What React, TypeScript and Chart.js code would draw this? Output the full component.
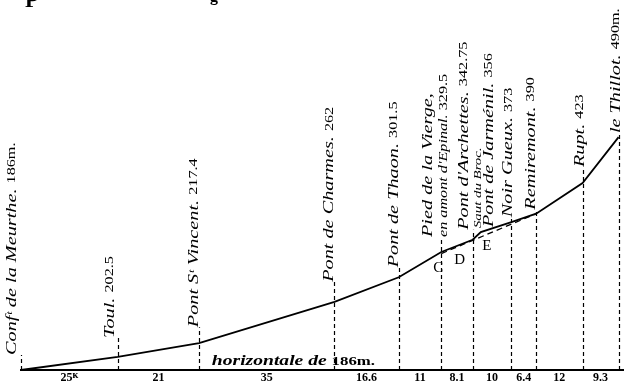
import React, { useEffect, useRef } from "react";
import { Chart, registerables } from "chart.js";
Chart.register(...registerables);

// ---- data ----
const segmentKm = [25, 21, 35, 16.6, 11, 8.1, 10, 6.4, 12, 9.3];
const segmentLabels = ["25ᴷ", "21", "35", "16.6", "11", "8.1", "10", "6.4", "12", "9.3"];

const stationNames = [
  "Confᵗ de la Meurthe.",
  "Toul.",
  "Pont Sᵗ Vincent.",
  "Pont de Charmes.",
  "Pont de Thaon.",
  "Pied de la Vierge,",
  "Pont d'Archettes.",
  "Pont de Jarménil.",
  "Noir Gueux.",
  "Remiremont.",
  "Rupt.",
  "le Thillot.",
];
const stationAltLabels = ["186m.", "202.5", "217.4", "262", "301.5", "329.5", "342.75", "356", "373", "390", "423", "490m."];
const stationSubNotes = ["", "", "", "", "", "en amont d'Epinal.", "", "Saut du Broc.", "", "", "", ""];
const stationKm = [0, 25, 46, 81, 97.6, 108.6, 116.7, 118.8, 126.7, 133.1, 145.1, 154.4];
const profileElev = [186, 203, 221, 275, 307, 340, 356, 366, 379, 390, 430, 490];

const dashedKm = [108.6, 133.1];
const dashedElev = [338, 390];

const pointLetters = ["C", "D", "E"];
const letterStation = [5, 6, 7];

const baseCaption = "horizontale de ";
const baseCaptionAlt = "186m.";

// ---- layout / style (not data) ----
const NAME_FONT = "italic 15px 'Liberation Serif'";
const ALT_FONT = "12px 'Liberation Serif'";
const SMALL_ITALIC = "italic 12px 'Liberation Serif'";
const STRETCH = 1.35;
const labelLayout = [
  { dx: -9, gap: 15, line: true, subDx: 0, subGap: 0, subFont: SMALL_ITALIC },
  { dx: -8, gap: 19, line: true, subDx: 0, subGap: 0, subFont: SMALL_ITALIC },
  { dx: -5, gap: 16, line: true, subDx: 0, subGap: 0, subFont: SMALL_ITALIC },
  { dx: -5, gap: 20, line: true, subDx: 0, subGap: 0, subFont: SMALL_ITALIC },
  { dx: -5, gap: 10, line: true, subDx: 0, subGap: 0, subFont: SMALL_ITALIC },
  { dx: -13, gap: 15, line: true, subDx: 3, subGap: 15, subFont: SMALL_ITALIC },
  { dx: -9, gap: 10, line: true, subDx: 0, subGap: 0, subFont: SMALL_ITALIC },
  { dx: 8, gap: 5, line: false, subDx: -3, subGap: 4, subFont: "italic 11px 'Liberation Serif'" },
  { dx: -3, gap: 5, line: true, subDx: 0, subGap: 0, subFont: SMALL_ITALIC },
  { dx: -5, gap: 4, line: true, subDx: 0, subGap: 0, subFont: SMALL_ITALIC },
  { dx: -3, gap: 16, line: true, subDx: 0, subGap: 0, subFont: SMALL_ITALIC },
  { dx: -3, gap: 4, line: true, subDx: 0, subGap: 0, subFont: SMALL_ITALIC },
];
const letterOffsets = [
  { dx: -3, dy: 16 },
  { dx: -13, dy: 20 },
  { dx: 6, dy: 14 },
];

type Part = { text: string; font: string };

function drawRotatedRun(ctx: CanvasRenderingContext2D, x: number, y: number, parts: Part[]) {
  ctx.save();
  ctx.translate(x, y);
  ctx.rotate(-Math.PI / 2);
  ctx.scale(STRETCH, 1);
  ctx.textBaseline = "middle";
  ctx.textAlign = "left";
  ctx.fillStyle = "#000";
  let cx = 0;
  for (const p of parts) {
    ctx.font = p.font;
    ctx.fillText(p.text, cx, 0);
    cx += ctx.measureText(p.text).width;
  }
  ctx.restore();
}

const annotatePlugin = {
  id: "annotate",
  beforeDraw(chart: any) {
    const ctx = chart.ctx;
    ctx.save();
    ctx.fillStyle = "#fff";
    ctx.fillRect(0, 0, chart.width, chart.height);
    ctx.restore();
  },
  afterDatasetsDraw(chart: any) {
    const ctx: CanvasRenderingContext2D = chart.ctx;
    const xs = chart.scales.x;
    const ys = chart.scales.y;
    const bottom = chart.chartArea.bottom;
    ctx.save();
    // vertical dashed station lines
    ctx.strokeStyle = "#000";
    ctx.lineWidth = 1.2;
    ctx.setLineDash([4, 3]);
    stationKm.forEach((k, i) => {
      const L = labelLayout[i];
      if (!L.line) return;
      const px = Math.round(xs.getPixelForValue(k)) + 0.5;
      const py = ys.getPixelForValue(profileElev[i]);
      ctx.beginPath();
      ctx.moveTo(px, bottom);
      ctx.lineTo(px, py - L.gap);
      ctx.stroke();
    });
    ctx.setLineDash([]);
    // station labels
    stationKm.forEach((k, i) => {
      const L = labelLayout[i];
      const px = xs.getPixelForValue(k);
      const py = ys.getPixelForValue(profileElev[i]);
      const sub = stationSubNotes[i];
      if (sub && i === 5) {
        drawRotatedRun(ctx, px + L.dx, py - L.gap, [{ text: stationNames[i], font: NAME_FONT }]);
        drawRotatedRun(ctx, px + L.subDx, py - L.subGap, [
          { text: sub + " ", font: L.subFont },
          { text: stationAltLabels[i], font: ALT_FONT },
        ]);
      } else {
        drawRotatedRun(ctx, px + L.dx, py - L.gap, [
          { text: stationNames[i] + " ", font: NAME_FONT },
          { text: stationAltLabels[i], font: ALT_FONT },
        ]);
        if (sub) {
          drawRotatedRun(ctx, px + L.subDx, py - L.subGap, [{ text: sub, font: L.subFont }]);
        }
      }
    });
    // letters C D E
    ctx.fillStyle = "#000";
    ctx.font = "15px 'Liberation Serif'";
    ctx.textAlign = "center";
    ctx.textBaseline = "middle";
    pointLetters.forEach((t, j) => {
      const s = letterStation[j];
      const px = xs.getPixelForValue(stationKm[s]);
      const py = ys.getPixelForValue(profileElev[s]);
      ctx.fillText(t, px + letterOffsets[j].dx, py + letterOffsets[j].dy);
    });
    // baseline caption
    ctx.save();
    ctx.translate(xs.getPixelForValue(49.3), bottom - 5);
    ctx.scale(1.4, 1);
    ctx.textAlign = "left";
    ctx.textBaseline = "alphabetic";
    ctx.font = "italic bold 14px 'Liberation Serif'";
    ctx.fillText(baseCaption, 0, 0);
    const w = ctx.measureText(baseCaption).width;
    ctx.font = "bold 12px 'Liberation Serif'";
    ctx.fillText(baseCaptionAlt, w, 0);
    ctx.restore();
    // cut-off title remnants at the very top
    ctx.textAlign = "left";
    ctx.textBaseline = "alphabetic";
    ctx.font = "bold 22px 'Liberation Serif'";
    ctx.fillText("P", 25, 7);
    ctx.font = "bold 16px 'Liberation Serif'";
    ctx.fillText("g", 210, 1);
    ctx.restore();
  },
};

export default function App() {
  const ref = useRef<HTMLCanvasElement | null>(null);
  useEffect(() => {
    document.body.style.margin = "0";
    const canvas = ref.current!;
    const mids: number[] = [];
    let acc = 0;
    segmentKm.forEach((d) => {
      mids.push(acc + d / 2);
      acc += d;
    });
    const chart = new Chart(canvas, {
      type: "line",
      data: {
        datasets: [
          {
            data: stationKm.map((k, i) => ({ x: k, y: profileElev[i] })),
            borderColor: "#000",
            borderWidth: 1.8,
            pointRadius: 0,
            tension: 0,
            clip: false as any,
          },
          {
            data: dashedKm.map((k, i) => ({ x: k, y: dashedElev[i] })),
            borderColor: "#000",
            borderWidth: 1.3,
            borderDash: [6, 4],
            pointRadius: 0,
            tension: 0,
            clip: false as any,
          },
        ],
      },
      options: {
        animation: false,
        responsive: false,
        devicePixelRatio: 1,
        layout: { padding: { left: 21, right: 0, top: 0, bottom: 0 } },
        plugins: { legend: { display: false }, tooltip: { enabled: false } },
        scales: {
          x: {
            type: "linear",
            min: 0,
            max: 155.8,
            grid: { display: false, drawTicks: false },
            border: { display: true, color: "#000", width: 2 },
            afterBuildTicks: (scale: any) => {
              scale.ticks = mids.map((v) => ({ value: v }));
            },
            afterFit: (scale: any) => {
              scale.height = 13;
            },
            ticks: {
              autoSkip: false,
              maxRotation: 0,
              padding: 1,
              color: "#000",
              font: { family: "'Liberation Serif'", size: 12, weight: "bold" },
              callback: (_v: any, i: number) => segmentLabels[i],
            },
          },
          y: {
            type: "linear",
            display: false,
            min: 186,
            max: 669,
          },
        },
      },
      plugins: [annotatePlugin],
    } as any);
    return () => chart.destroy();
  }, []);
  return <canvas ref={ref} width={624} height={383} style={{ display: "block", width: 624, height: 383 }} />;
}
